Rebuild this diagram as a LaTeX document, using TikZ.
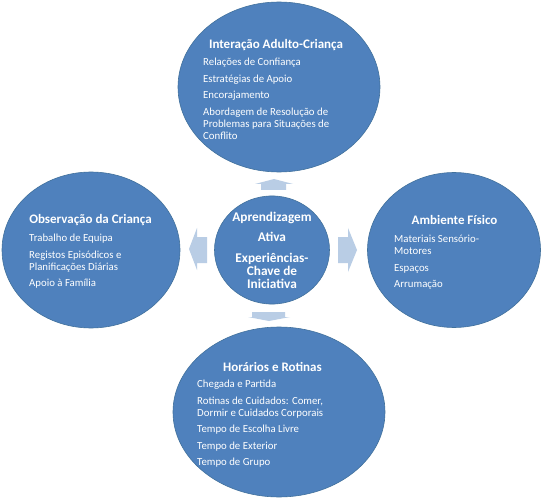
\documentclass[tikz,border=0pt]{standalone}
\usepackage{fontspec}
\setmainfont{Carlito}
\usetikzlibrary{shapes.geometric}

\definecolor{bubblefill}{HTML}{4F81BD}
\definecolor{bubbleline}{HTML}{41719C}
\definecolor{arrowfill}{HTML}{B9CDE5}

\begin{document}
\begin{tikzpicture}[
        x=1pt, y=-1pt,
        bubble/.style={ellipse, draw=bubbleline, fill=bubblefill, line width=0.6pt, inner sep=0pt},
        core/.style={ellipse, draw=bubbleline, fill=bubblefill, line width=0.6pt, inner sep=0pt, text=white, align=center, font=\fontsize{13.3}{13}\selectfont\bfseries},
        heading/.style={text=white, font=\fontsize{13}{14}\selectfont\bfseries, inner sep=0pt, anchor=base},
        itemlist/.style={text=white, font=\fontsize{10.8}{12}\selectfont, align=left, inner sep=0pt, anchor=north west},
        blockarrow/.style={fill=arrowfill, draw=none}
    ]
        \useasboundingbox[fill=white] (0,0) rectangle (544,500);

        % outer bubbles
        \node[bubble, minimum width=202pt, minimum height=170pt] (adulto) at (279,87) {};
        \node[bubble, minimum width=178pt, minimum height=156pt] (observacao) at (91,250) {};
        \node[bubble, minimum width=173pt, minimum height=155pt] (ambiente) at (454,250) {};
        \node[bubble, minimum width=212pt, minimum height=170pt] (rotinas) at (279,412) {};

        % centre
        \node[core, minimum width=115pt, minimum height=102pt] (nucleo) at (272,250) {Aprendizagem\\[7.5pt]Ativa\\[7.5pt]Experiências-\\Chave de\\Iniciativa};

        % block arrows
        \fill[blockarrow] (261,190) -- (261,184) -- (255,184) -- (274,179) -- (293,184) -- (286,184) -- (286,190) -- cycle;
        \fill[blockarrow] (252,312) -- (252,317) -- (248,317) -- (269,321) -- (290,317) -- (285,317) -- (285,312) -- cycle;
        \fill[blockarrow] (207,237) -- (197,237) -- (197,228) -- (189,249) -- (197,270) -- (197,263) -- (207,263) -- cycle;
        \fill[blockarrow] (338,237) -- (348,237) -- (348,228) -- (357,250) -- (348,272) -- (348,263) -- (338,263) -- cycle;

        % texts
        \node[heading] (adultotitle) at (276,49) {Interação Adulto-Criança};
        \node[itemlist] (adultoitems) at (203,58) {Relações de Confiança\\[4.5pt]Estratégias de Apoio\\[4.5pt]Encorajamento\\[4.5pt]Abordagem de Resolução de\\Problemas para Situações de\\Conflito};

        \node[heading] (observacaotitle) at (90.5,224) {Observação da Criança};
        \node[itemlist] (observacaoitems) at (29,234) {Trabalho de Equipa\\[4.5pt]Registos Episódicos e\\Planificações Diárias\\[4.5pt]Apoio à Família};

        \node[heading] (ambientetitle) at (454.5,225) {Ambiente Físico};
        \node[itemlist] (ambienteitems) at (394,235) {Materiais Sensório-\\Motores\\[4.5pt]Espaços\\[4.5pt]Arrumação};

        \node[heading] (rotinastitle) at (272.5,371) {Horários e Rotinas};
        \node[itemlist] (rotinasitems) at (197,380) {Chegada e Partida\\[4.5pt]Rotinas de Cuidados: Comer,\\Dormir e Cuidados Corporais\\[4.5pt]Tempo de Escolha Livre\\[4.5pt]Tempo de Exterior\\[4.5pt]Tempo de Grupo};
    \end{tikzpicture}
\end{document}
